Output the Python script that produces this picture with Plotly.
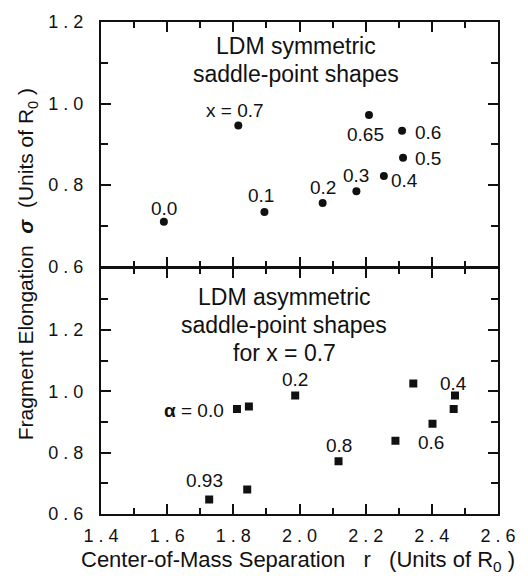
import plotly.graph_objects as go

# ---------------- data ----------------
# Top panel: LDM symmetric saddle-point shapes (fissility x)
sym_x_label = ["0.0", "0.1", "0.2", "0.3", "0.4", "0.5", "0.6", "0.65", "x = 0.7"]
sym_r = [1.59, 1.894, 2.07, 2.172, 2.255, 2.313, 2.31, 2.21, 1.815]
sym_sigma = [0.71, 0.734, 0.756, 0.785, 0.822, 0.867, 0.933, 0.972, 0.946]

# Bottom panel: LDM asymmetric saddle-point shapes for x = 0.7 (asymmetry alpha)
asym_label = ["α = 0.0", "", "0.2", "", "0.4", "", "0.6", "", "0.8", "", "0.93"]
asym_r = [1.811, 1.847, 1.987, 2.344, 2.47, 2.466, 2.402, 2.29, 2.118, 1.842, 1.727]
asym_sigma = [0.942, 0.950, 0.986, 1.025, 0.986, 0.942, 0.894, 0.839, 0.772, 0.680, 0.647]

x_tickvals = [1.4, 1.6, 1.8, 2.0, 2.2, 2.4, 2.6]
x_ticktext = ["1 . 4", "1 . 6", "1 . 8", "2 . 0", "2 . 2", "2 . 4", "2 . 6"]
y_tickvals = [0.6, 0.8, 1.0, 1.2]
y_ticktext = ["0 . 6", "0 . 8", "1 . 0", "1 . 2"]

# ---------------- styles ----------------
FONT = "Liberation Sans, Arial, Helvetica, sans-serif"
INK = "#111111"
W, H = 528, 580
ML, MR, MT, MB = 101, 26, 13, 66
PW, PH = W - ML - MR, H - MT - MB


def px(xp):
    return (xp - ML) / PW


def py(yp):
    return (H - MB - yp) / PH


# label offsets (pixels) for each point label
sym_shift = [(0, 13), (-3, 16), (0, 15), (0, 16), (21, -4), (25, -1), (26, -2), (-3, -20), (-3, 15)]
asym_shift = [(-11, -1), None, (0, 16), None, (-1, 12), None, (-2, -19), None, (0, 16), None, (-5, 19)]

fig = go.Figure()

fig.add_trace(go.Scatter(
    x=sym_r, y=sym_sigma, mode="markers", xaxis="x2", yaxis="y2",
    marker=dict(symbol="circle", size=8, color=INK), showlegend=False,
))
fig.add_trace(go.Scatter(
    x=asym_r, y=asym_sigma, mode="markers", xaxis="x", yaxis="y",
    marker=dict(symbol="square", size=8, color=INK), showlegend=False,
))

label_font = dict(family=FONT, size=19, color=INK)
annotations = []
for xv, yv, t, (dx, dy) in zip(sym_r, sym_sigma, sym_x_label, sym_shift):
    annotations.append(dict(x=xv, y=yv, xref="x2", yref="y2", text=t, showarrow=False,
                            xshift=dx, yshift=dy, font=label_font))
for xv, yv, t, sh in zip(asym_r, asym_sigma, asym_label, asym_shift):
    if not t:
        continue
    dx, dy = sh
    txt = t
    anchor = "center"
    if t.startswith("α"):
        txt = "<b>α</b> = 0.0"
        anchor = "right"
    annotations.append(dict(x=xv, y=yv, xref="x", yref="y", text=txt, showarrow=False,
                            xanchor=anchor, xshift=dx, yshift=dy, font=label_font))

title_font = dict(family=FONT, size=23, color=INK)
for text, xp, yp in [("LDM symmetric", 298, 37), ("saddle-point shapes", 298, 66),
                     ("LDM asymmetric", 286, 293), ("saddle-point shapes", 286, 322),
                     ("for x = 0.7", 286, 350)]:
    annotations.append(dict(x=px(xp), y=py(yp), xref="paper", yref="paper", text=text,
                            showarrow=False, xanchor="center", yanchor="middle", font=title_font))

annotations.append(dict(
    x=px(26), y=py(260), xref="paper", yref="paper", textangle=-90, showarrow=False,
    text="Fragment Elongation\u00a0\u00a0<b><i>σ</i></b>\u00a0\u00a0(Units of R<sub>0</sub>\u00a0)",
    font=dict(family=FONT, size=21, color=INK), xanchor="center", yanchor="middle"))
annotations.append(dict(
    x=px(300), y=py(562), xref="paper", yref="paper", showarrow=False,
    text="Center-of-Mass Separation\u00a0\u00a0\u00a0r\u00a0\u00a0\u00a0(Units of R<sub>0</sub>\u00a0)",
    font=dict(family=FONT, size=22, color=INK), xanchor="center", yanchor="middle"))

tickfont = dict(family=FONT, size=18, color=INK)
common_axis = dict(showline=True, linecolor=INK, linewidth=2, mirror="ticks",
                   ticks="inside", ticklen=10, tickwidth=1.5, tickcolor=INK,
                   showgrid=False, zeroline=False, tickfont=tickfont)

# bottom panel domain, and top panel starting 2 px higher so the shared frame lines coincide
bottom_top = 250 / PH
top_bottom = 252 / PH

fig.update_layout(
    width=W, height=H,
    margin=dict(l=ML, r=MR, t=MT, b=MB),
    paper_bgcolor="white", plot_bgcolor="white",
    showlegend=False,
    annotations=annotations,
    xaxis=dict(range=[1.4, 2.6], domain=[0, 1], anchor="y",
               tickmode="array", tickvals=x_tickvals, ticktext=x_ticktext,
               ticklabelstandoff=4,
               minor=dict(tickmode="array", tickvals=[1.5, 1.7, 1.9, 2.1, 2.3, 2.5],
                          ticks="inside", ticklen=6, tickwidth=1.5, tickcolor=INK),
               **common_axis),
    xaxis2=dict(range=[1.4, 2.6], domain=[0, 1], anchor="y2", matches="x",
                tickmode="array", tickvals=x_tickvals, showticklabels=False,
                minor=dict(tickmode="array", tickvals=[1.5, 1.7, 1.9, 2.1, 2.3, 2.5],
                           ticks="inside", ticklen=6, tickwidth=1.5, tickcolor=INK),
                **common_axis),
    yaxis=dict(range=[0.6, 1.4], domain=[0, bottom_top], anchor="x",
               tickmode="array", tickvals=y_tickvals, ticktext=y_ticktext,
               ticklabelstandoff=12,
               minor=dict(tickmode="array", tickvals=[0.7, 0.9, 1.1, 1.3],
                          ticks="inside", ticklen=7, tickwidth=1.5, tickcolor=INK),
               **common_axis),
    yaxis2=dict(range=[0.6, 1.2], domain=[top_bottom, 1], anchor="x2",
                tickmode="array", tickvals=y_tickvals, ticktext=y_ticktext,
                ticklabelstandoff=12,
                minor=dict(tickmode="array", tickvals=[0.7, 0.9, 1.1],
                           ticks="inside", ticklen=7, tickwidth=1.5, tickcolor=INK),
                **common_axis),
)

fig.write_html("out.html")
